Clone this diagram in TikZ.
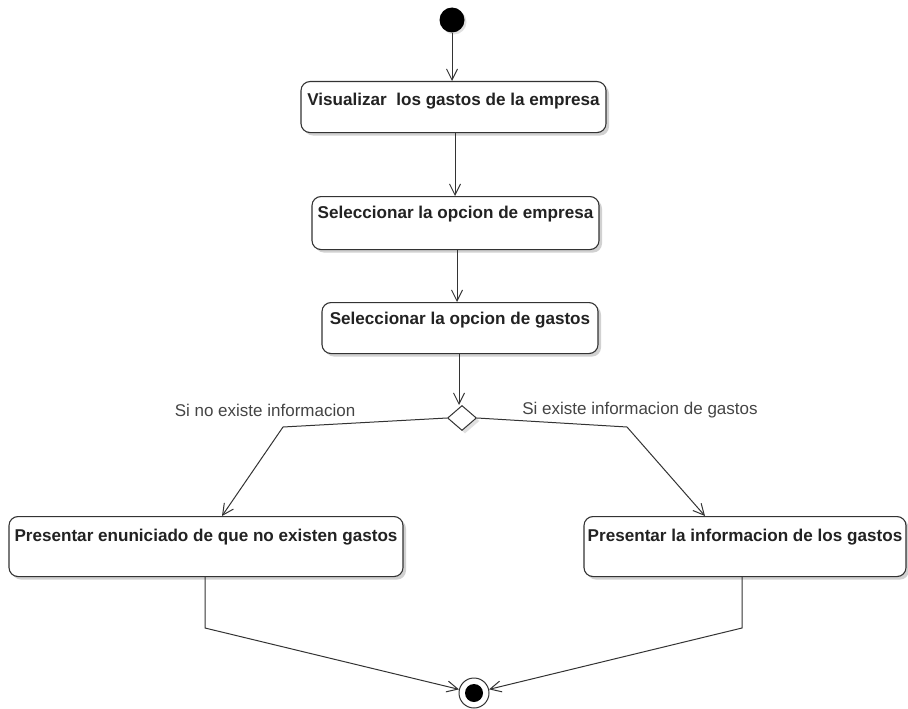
\documentclass[tikz,border=0pt]{standalone}
\usepackage{fontspec}
\setmainfont{Liberation Sans}
\usetikzlibrary{arrows.meta,shadows,shapes.geometric}
\definecolor{linec}{HTML}{333333}
\definecolor{textc}{HTML}{222222}
\definecolor{labc}{HTML}{444444}
\tikzset{
  act/.style={draw=linec, line width=1.1pt, rounded corners=9pt, fill=white,
    inner sep=0pt, anchor=north, text=textc,
    font=\fontsize{17.1}{20}\selectfont\bfseries,
    drop shadow={shadow xshift=3pt, shadow yshift=-3pt, opacity=0.18, fill=black}},
  flow/.style={draw=linec, line width=1pt, -{Straight Barb[length=11pt,width=11pt]}},
  lab/.style={text=labc, font=\fontsize{17}{20}\selectfont, inner sep=0pt},
}
\begin{document}
\begin{tikzpicture}[x=1pt,y=-1pt]
\useasboundingbox (0,0) rectangle (908,709);
% start
\node[circle, fill=black, minimum size=25pt, inner sep=0pt,
  drop shadow={shadow xshift=2pt, shadow yshift=-2pt, opacity=0.12, fill=black}] (s) at (452,20) {};
% activities
\node[act, minimum width=305pt, text height=24pt, text depth=27pt] (b1) at (453.5,81) {Visualizar\ \ los gastos de la empresa};
\node[act, minimum width=287pt, text height=22pt, text depth=31pt] (b2) at (455.5,196) {Seleccionar la opcion de empresa};
\node[act, minimum width=276pt, text height=22pt, text depth=29pt] (b3) at (460,302) {Seleccionar la opcion de gastos};
\node[diamond, draw=linec, line width=1pt, fill=white, minimum width=29pt, minimum height=25pt, inner sep=0pt,
  drop shadow={shadow xshift=3pt, shadow yshift=-3pt, opacity=0.12, fill=black}] (d) at (462,418) {};
\node[act, minimum width=394pt, text height=25pt, text depth=35pt] (b4) at (206,516) {Presentar enuniciado de que no existen gastos};
\node[act, minimum width=322pt, text height=25pt, text depth=35pt] (b5) at (745,516) {Presentar la informacion de los gastos};
% end
\node[circle, draw=linec, line width=1pt, fill=white, minimum size=30pt, inner sep=0pt] (e) at (474,693) {};
\node[circle, fill=black, minimum size=18pt, inner sep=0pt] (ei) at (e.center) {};
% labels
\node[lab] (l1) at (265,410) {Si no existe informacion};
\node[lab] (l2) at (640,410) {Si existe informacion de gastos};
% coordinates
\coordinate (k1) at (283,427);
\coordinate (k2) at (627,427);
\coordinate (t4) at (222,0);
\coordinate (t5) at (705,0);
\coordinate (m1) at (205,628);
\coordinate (m2) at (742,628);
% connectors
\draw[flow] (s) -- (b1.north -| s);
\draw[flow] (b1.south -| 455,0) -- (b2.north -| 455,0);
\draw[flow] (b2.south -| 457,0) -- (b3.north -| 457,0);
\draw[flow] (b3.south -| 459,0) -- (d.north -| 459,0);
\draw[flow] (d.west) -- (k1) -- (b4.north -| t4);
\draw[flow] (d.east) -- (k2) -- (b5.north -| t5);
\draw[flow] (b4.south -| m1) -- (m1) -- (e);
\draw[flow] (b5.south -| m2) -- (m2) -- (e);
\end{tikzpicture}
\end{document}
